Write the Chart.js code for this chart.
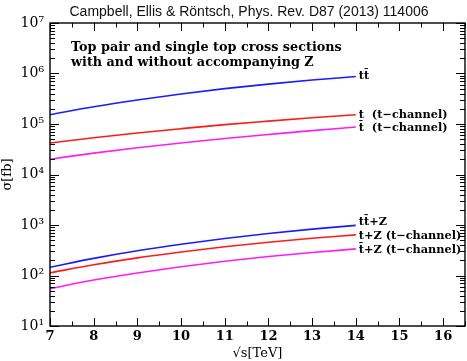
<!DOCTYPE html>
<html><head><meta charset="utf-8">
<script src="https://cdn.jsdelivr.net/npm/chart.js@4"></script>
<style>html,body{margin:0;padding:0;background:#fff}canvas{display:block}</style>
</head><body>
<canvas id="c" width="467" height="361"></canvas>
<script>
// ---- data (sigma in fb vs sqrt(s) in TeV) ----
const energies = [7, 8, 9, 10, 11, 12, 13, 14];
const ttbar    = [1.53e5, 2.19e5, 2.99e5, 3.94e5, 5.01e5, 6.17e5, 7.41e5, 8.71e5];
const tChan    = [4.19e4, 5.33e4, 6.64e4, 8.07e4, 9.70e4, 1.14e5, 1.33e5, 1.53e5];
const tbarChan = [2.01e4, 2.65e4, 3.38e4, 4.21e4, 5.15e4, 6.19e4, 7.40e4, 8.71e4];
const ttZ      = [146, 218, 308, 415, 541, 681, 828, 984];
const tZ       = [113, 163, 223, 292, 372, 457, 546, 638];
const tbarZ    = [55, 81.5, 112, 149, 191, 237, 285, 336];
const seriesLabels = ['tt\u0304', 't  (t\u2212channel)', 't\u0304  (t\u2212channel)', 'tt\u0304+Z', 't+Z (t\u2212channel)', 't\u0304+Z (t\u2212channel)'];
const seriesColors = ['#1a1aff', '#ff1a1a', '#ff1aff', '#1a1aff', '#ff1a1a', '#ff1aff'];
const xTickValues = [7, 8, 9, 10, 11, 12, 13, 14, 15, 16];
const yTickValues = [1e1, 1e2, 1e3, 1e4, 1e5, 1e6, 1e7];
const yTickLabels = ['10\u00B9', '10\u00B2', '10\u00B3', '10\u2074', '10\u2075', '10\u2076', '10\u2077'];
const titleText = 'Campbell, Ellis & R\u00F6ntsch, Phys. Rev. D87 (2013) 114006';
const noteLines = ['Top pair and single top cross sections', 'with and without accompanying Z'];

const allSeries = [ttbar, tChan, tbarChan, ttZ, tZ, tbarZ];
const datasets = allSeries.map((s, i) => ({
  label: seriesLabels[i],
  data: energies.map((e, j) => ({x: e, y: s[j]})),
  borderColor: seriesColors[i],
  borderWidth: 1.6,
  pointRadius: 0,
  cubicInterpolationMode: 'monotone',
  fill: false
}));

const serif = '"DejaVu Serif", serif';
const labelOffsets = [0, 0, 1, -3, 1, 1];

const decor = {
  id: 'decor',
  afterDraw(chart) {
    const {ctx, chartArea: a, scales: {x, y}} = chart;
    ctx.save();
    ctx.strokeStyle = '#000';
    ctx.lineWidth = 1.4;
    ctx.strokeRect(a.left, a.top, a.right - a.left, a.bottom - a.top);
    ctx.lineWidth = 1;
    ctx.beginPath();
    for (let v = 7; v <= 16.5 + 1e-9; v += 0.5) {
      const px = Math.round(x.getPixelForValue(v)) + 0.5;
      const len = Number.isInteger(v) ? 8 : 4.5;
      ctx.moveTo(px, a.bottom); ctx.lineTo(px, a.bottom - len);
      ctx.moveTo(px, a.top); ctx.lineTo(px, a.top + len);
    }
    for (let d = 1; d <= 7; d++) {
      for (let m = 1; m <= 9; m++) {
        const v = m * Math.pow(10, d);
        if (v > 1e7) break;
        const py = Math.round(y.getPixelForValue(v)) + 0.5;
        const len = m === 1 ? 9 : 5;
        ctx.moveTo(a.left, py); ctx.lineTo(a.left + len, py);
        ctx.moveTo(a.right, py); ctx.lineTo(a.right - len, py);
      }
    }
    ctx.stroke();

    ctx.fillStyle = '#111';
    ctx.font = '14px "Liberation Sans", Arial, sans-serif';
    ctx.textAlign = 'center';
    ctx.textBaseline = 'middle';
    ctx.fillText(titleText, 249, 12);

    ctx.font = 'bold 12.8px ' + serif;
    ctx.textAlign = 'left';
    ctx.fillStyle = '#000';
    ctx.fillText(noteLines[0], 71, 48);
    ctx.fillText(noteLines[1], 71, 63);

    ctx.font = 'bold 11.3px ' + serif;
    chart.data.datasets.forEach((ds, i) => {
      const last = ds.data[ds.data.length - 1];
      const px = x.getPixelForValue(last.x) + 3;
      const py = y.getPixelForValue(last.y) + labelOffsets[i];
      ctx.fillText(ds.label, px, py);
    });
    ctx.restore();
  }
};

new Chart(document.getElementById('c'), {
  type: 'line',
  data: {datasets},
  plugins: [decor],
  options: {
    responsive: false,
    devicePixelRatio: 1,
    animation: false,
    layout: {padding: {top: 23, right: 2, left: 0, bottom: 0}},
    plugins: {legend: {display: false}, title: {display: false}, tooltip: {enabled: false}},
    scales: {
      x: {
        type: 'linear', min: 7, max: 16.5,
        grid: {display: false, drawTicks: false},
        border: {display: false},
        afterBuildTicks: s => { s.ticks = xTickValues.map(v => ({value: v})); },
        afterFit: s => { s.height = 35; },
        ticks: {color: '#000', font: {family: serif, size: 13, weight: 'bold'}, padding: 3, maxRotation: 0,
                callback: v => String(v)},
        title: {display: true, text: '\u221As[TeV]', color: '#000', font: {family: serif, size: 13}, padding: {top: 0, bottom: 0}}
      },
      y: {
        type: 'logarithmic', min: 10, max: 1e7,
        grid: {display: false, drawTicks: false},
        border: {display: false},
        afterBuildTicks: s => { s.ticks = yTickValues.map(v => ({value: v})); },
        afterFit: s => { s.width = 50; },
        ticks: {color: '#000', font: {family: serif, size: 14}, padding: 6,
                callback: (v) => { const i = yTickValues.indexOf(v); return i >= 0 ? yTickLabels[i] : ''; }},
        title: {display: true, text: '\u03C3[fb]', color: '#000', font: {family: serif, size: 13}, padding: {top: 0, bottom: 2}}
      }
    }
  }
});
</script>
</body></html>
